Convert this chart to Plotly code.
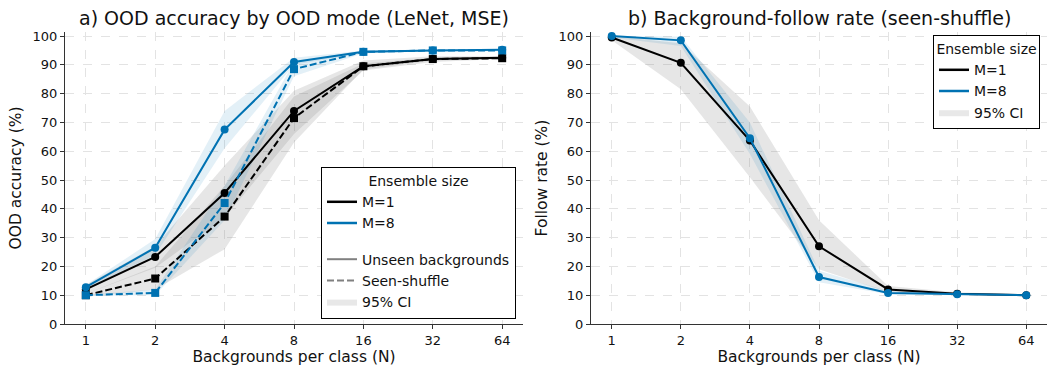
import plotly.graph_objects as go

# ---------------- data ----------------
N = [1, 2, 4, 8, 16, 32, 64]

# Panel a) OOD accuracy (%)
acc_m1_unseen = [12.0, 23.3, 45.5, 74.0, 89.5, 92.0, 92.5]
acc_m1_unseen_lo = [10.5, 19.5, 37.0, 66.0, 88.0, 91.0, 92.0]
acc_m1_unseen_hi = [13.5, 27.0, 55.0, 81.0, 91.5, 93.0, 93.0]

acc_m1_seen = [10.0, 15.8, 37.3, 71.5, 89.5, 92.0, 92.3]
acc_m1_seen_lo = [9.5, 12.0, 26.0, 63.0, 88.5, 91.5, 92.0]
acc_m1_seen_hi = [10.5, 20.0, 48.0, 79.0, 90.5, 92.5, 92.7]

acc_m8_unseen = [12.8, 26.5, 67.5, 91.0, 94.5, 95.0, 95.2]
acc_m8_unseen_lo = [12.0, 24.0, 61.0, 90.0, 94.0, 94.7, 94.9]
acc_m8_unseen_hi = [13.5, 29.5, 74.0, 92.5, 95.0, 95.3, 95.5]

acc_m8_seen = [10.0, 10.8, 42.0, 88.5, 94.5, 95.0, 95.0]
acc_m8_seen_lo = [9.8, 10.0, 36.0, 86.0, 94.0, 94.7, 94.7]
acc_m8_seen_hi = [10.2, 12.0, 48.0, 91.0, 95.0, 95.3, 95.3]

# Panel b) Background-follow rate (%)
fol_m1 = [99.5, 90.7, 63.7, 27.0, 12.0, 10.5, 10.0]
fol_m1_lo = [98.5, 81.5, 51.0, 19.0, 11.0, 10.0, 9.8]
fol_m1_hi = [100.0, 97.5, 75.5, 36.0, 13.2, 11.0, 10.2]

fol_m8 = [100.0, 98.5, 64.5, 16.3, 10.8, 10.3, 10.0]
fol_m8_lo = [99.5, 96.5, 59.0, 14.5, 10.3, 10.0, 9.8]
fol_m8_hi = [100.0, 99.8, 70.0, 18.5, 11.5, 10.6, 10.2]

y_ticks = [0, 10, 20, 30, 40, 50, 60, 70, 80, 90, 100]
x_ticklabels = ["1", "2", "4", "8", "16", "32", "64"]

# ---------------- styles ----------------
BLACK = "#000000"
BLUE = "#0072B2"
GRAY_FILL = "rgba(128,128,128,0.2)"
BLUE_FILL = "rgba(0,114,178,0.11)"
FONT = "DejaVu Sans"
DASH = "7px,3px"
LEGEND_FS = 14

fig = go.Figure()


def band(xa, ya, lo, hi, color):
    fig.add_trace(go.Scatter(
        x=N + N[::-1], y=hi + lo[::-1], fill="toself", fillcolor=color,
        line=dict(width=0), mode="lines", hoverinfo="skip", showlegend=False,
        xaxis=xa, yaxis=ya))


def line(xa, ya, vals, color, dash, symbol):
    fig.add_trace(go.Scatter(
        x=N, y=vals, mode="lines+markers",
        line=dict(color=color, width=2, dash=dash),
        marker=dict(symbol=symbol, size=8, color=color),
        showlegend=False, xaxis=xa, yaxis=ya))


# Panel a
band("x", "y", acc_m1_unseen_lo, acc_m1_unseen_hi, GRAY_FILL)
band("x", "y", acc_m1_seen_lo, acc_m1_seen_hi, GRAY_FILL)
band("x", "y", acc_m8_unseen_lo, acc_m8_unseen_hi, BLUE_FILL)
band("x", "y", acc_m8_seen_lo, acc_m8_seen_hi, BLUE_FILL)
line("x", "y", acc_m1_unseen, BLACK, "solid", "circle")
line("x", "y", acc_m1_seen, BLACK, DASH, "square")
line("x", "y", acc_m8_unseen, BLUE, "solid", "circle")
line("x", "y", acc_m8_seen, BLUE, DASH, "square")

# Panel b
band("x2", "y2", fol_m1_lo, fol_m1_hi, GRAY_FILL)
band("x2", "y2", fol_m8_lo, fol_m8_hi, BLUE_FILL)
line("x2", "y2", fol_m1, BLACK, "solid", "circle")
line("x2", "y2", fol_m8, BLUE, "solid", "circle")


# Legend entries (proxy traces)
def proxy_line(name, color, dash, legend, group):
    fig.add_trace(go.Scatter(
        x=[None], y=[None], mode="lines", name=name,
        line=dict(color=color, width=2.5 if color != "#808080" else 2, dash=dash),
        legend=legend, legendgroup=group, xaxis="x", yaxis="y"))


def proxy_fill(name, legend, group):
    fig.add_trace(go.Scatter(
        x=[None, None, None], y=[None, None, None], mode="lines", name=name,
        fill="toself", fillcolor="rgba(128,128,128,0.18)", line=dict(width=0),
        legend=legend, legendgroup=group, xaxis="x", yaxis="y"))


proxy_line("M=1", BLACK, "solid", "legend", "g1")
proxy_line("M=8", BLUE, "solid", "legend", "g1")
proxy_line("Unseen backgrounds", "#808080", "solid", "legend", "g2")
proxy_line("Seen-shuffle", "#808080", DASH, "legend", "g2")
proxy_fill("95% CI", "legend", "g2")

proxy_line("M=1", BLACK, "solid", "legend2", "h1")
proxy_line("M=8", BLUE, "solid", "legend2", "h1")
proxy_fill("95% CI", "legend2", "h1")

W, H = 1049, 366
ML, MR, MT, MB = 0, 0, 32, 42

axis_common = dict(
    type="log",
    range=[-0.0903, 1.8965],
    tickvals=N, ticktext=x_ticklabels,
    showline=True, linecolor="#333333", linewidth=1,
    ticks="outside", ticklen=4, tickcolor="#333333",
    showgrid=True, gridcolor="#e3e3e3", griddash="dash", gridwidth=0.8,
    zeroline=False, tickfont=dict(size=13, color="#111", family=FONT),
    title=dict(text="Backgrounds per class (N)", font=dict(size=15.5, family=FONT, color="#111"), standoff=5),
)
yaxis_common = dict(
    range=[0, 101.4],
    tickvals=y_ticks,
    showline=True, linecolor="#333333", linewidth=1,
    ticks="outside", ticklen=4, tickcolor="#333333",
    showgrid=True, gridcolor="#e3e3e3", griddash="dash", gridwidth=0.8,
    zeroline=False, tickfont=dict(size=13, color="#111", family=FONT),
)

fig.update_layout(
    width=W, height=H,
    margin=dict(l=ML, r=MR, t=MT, b=MB),
    paper_bgcolor="white", plot_bgcolor="white",
    font=dict(family=FONT, size=13, color="#111"),
    xaxis=dict(domain=[65 / W, 523 / W], anchor="y", **axis_common),
    yaxis=dict(domain=[0, 1], anchor="x",
               title=dict(text="OOD accuracy (%)", font=dict(size=15.5, family=FONT, color="#111"), standoff=7),
               **yaxis_common),
    xaxis2=dict(domain=[591 / W, 1047 / W], anchor="y2", **axis_common),
    yaxis2=dict(domain=[0, 1], anchor="x2",
                title=dict(text="Follow rate (%)", font=dict(size=15.5, family=FONT, color="#111"), standoff=7),
                **yaxis_common),
    legend=dict(
        x=321 / W, y=(324 - 319) / (H - MT - MB), xanchor="left", yanchor="bottom",
        bordercolor="#000", borderwidth=1, bgcolor="white",
        title=dict(text="Ensemble size", side="top center", font=dict(size=LEGEND_FS, family=FONT)),
        font=dict(size=LEGEND_FS, family=FONT), traceorder="grouped", tracegroupgap=15,
    ),
    legend2=dict(
        x=933 / W, y=(324 - 35) / (H - MT - MB), xanchor="left", yanchor="top",
        bordercolor="#000", borderwidth=1, bgcolor="white",
        title=dict(text="Ensemble size", side="top center", font=dict(size=LEGEND_FS, family=FONT)),
        font=dict(size=LEGEND_FS, family=FONT), traceorder="grouped",
    ),
    annotations=[
        dict(text="a) OOD accuracy by OOD mode (LeNet, MSE)", xref="paper", yref="paper",
             x=(65 + 523) / 2 / W, y=1, yshift=14, xanchor="center", yanchor="middle", showarrow=False,
             font=dict(size=19, family=FONT, color="#111")),
        dict(text="b) Background-follow rate (seen-shuffle)", xref="paper", yref="paper",
             x=(591 + 1047) / 2 / W, y=1, yshift=14, xanchor="center", yanchor="middle", showarrow=False,
             font=dict(size=19, family=FONT, color="#111")),
    ],
)

fig.write_html("out.html")
